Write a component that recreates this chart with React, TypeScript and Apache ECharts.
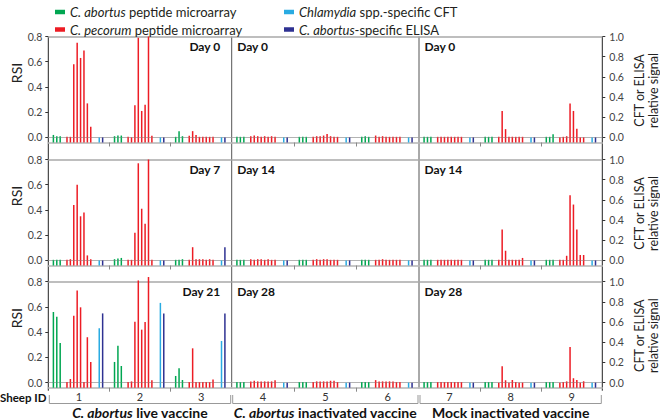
import React, { useEffect, useRef } from "react";
import * as echarts from "echarts";

// ---------- colours & names ----------
const GREEN = "#00a651";
const RED = "#ed1c24";
const CYAN = "#29abe2";
const NAVY = "#2e3192";
const NAMES = [
  "C. abortus peptide microarray",
  "C. pecorum peptide microarray",
  "Chlamydia spp.-specific CFT",
  "C. abortus-specific ELISA",
];
const LEGEND_FMT: Record<string, string> = {
  "C. abortus peptide microarray": "{i|C. abortus} peptide microarray",
  "C. pecorum peptide microarray": "{i|C. pecorum} peptide microarray",
  "Chlamydia spp.-specific CFT": "{i|Chlamydia} spp.-specific CFT",
  "C. abortus-specific ELISA": "{i|C. abortus}-specific ELISA",
};

// ---------- labels ----------
const rsiTicks = [0, 0.2, 0.4, 0.6, 0.8];
const sigTicks = [0, 0.2, 0.4, 0.6, 0.8, 1.0];
const groupLabels = [
  "{i|C. abortus} live vaccine",
  "{i|C. abortus} inactivated vaccine",
  "Mock inactivated vaccine",
];
const sheepLive = [1, 2, 3];
const sheepInact = [4, 5, 6];
const sheepMock = [7, 8, 9];
const daysRow1 = ["Day 0", "Day 0", "Day 0"];
const daysRow2 = ["Day 7", "Day 14", "Day 14"];
const daysRow3 = ["Day 21", "Day 28", "Day 28"];

// ---------- data (per sheep: 3 C. abortus peptides, 8 C. pecorum peptides, CFT, ELISA) ----------
// Row 1
const live0_ab = [[0.02, 0.01, 0.01], [0.01, 0.015, 0.015], [0.005, 0.05, 0.01]];
const live0_pe = [
  [0.005, 0.005, 0.58, 0.75, 0.63, 0.69, 0.27, 0.085],
  [0.005, 0.0, 0.255, 0.79, 0.21, 0.26, 0.8, 0.013],
  [0.013, 0.05, 0.02, 0.005, 0.005, 0.005, 0.005, 0.005],
];
const live0_cft = [0, 0, 0];
const live0_elisa = [0, 0, 0];

const inact0_ab = [[0.005, 0.005, 0.005], [0.005, 0.005, 0.005], [0.005, 0.01, 0.005]];
const inact0_pe = [
  [0.01, 0.015, 0.01, 0.005, 0.01, 0.005, 0.01, 0.005],
  [0.005, 0.01, 0.01, 0.015, 0.028, 0.01, 0.005, 0.005],
  [0.015, 0.005, 0.01, 0.005, 0.005, 0.005, 0.005, 0.005],
];
const inact0_cft = [0, 0, 0];
const inact0_elisa = [0, 0, 0];

const mock0_ab = [[0.005, 0.005, 0.005], [0.005, 0.005, 0.005], [0.005, 0.005, 0.025]];
const mock0_pe = [
  [0.005, 0.005, 0.005, 0.005, 0.005, 0.005, 0.005, 0.005],
  [0.005, 0.21, 0.066, 0.005, 0.005, 0.005, 0.005, 0.005],
  [0.0, 0.005, 0.01, 0.27, 0.21, 0.068, 0.0, 0.0],
];
const mock0_cft = [0, 0, 0];
const mock0_elisa = [0, 0, 0];

// Row 2
const live7_ab = [[0.005, 0.005, 0.005], [0.01, 0.015, 0.02], [0.005, 0.005, 0.01]];
const live7_pe = [
  [0.005, 0.01, 0.44, 0.6, 0.35, 0.38, 0.04, 0.01],
  [0.005, 0.005, 0.22, 0.77, 0.41, 0.29, 0.8, 0.005],
  [0.005, 0.105, 0.01, 0.01, 0.01, 0.005, 0.01, 0.005],
];
const live7_cft = [0, 0, 0];
const live7_elisa = [0, 0, 0.13];

const inact14_ab = [[0.005, 0.005, 0.005], [0.005, 0.005, 0.005], [0.005, 0.005, 0.005]];
const inact14_pe = [
  [0.01, 0.005, 0.01, 0.01, 0.005, 0.01, 0.005, 0.005],
  [0.005, 0.01, 0.005, 0.01, 0.01, 0.005, 0.005, 0.005],
  [0.005, 0.005, 0.01, 0.005, 0.005, 0.005, 0.005, 0.005],
];
const inact14_cft = [0, 0, 0];
const inact14_elisa = [0, 0, 0];

const mock14_ab = [[0.005, 0.005, 0.005], [0.005, 0.005, 0.005], [0.005, 0.005, 0.005]];
const mock14_pe = [
  [0.005, 0.005, 0.005, 0.005, 0.005, 0.005, 0.005, 0.005],
  [0.005, 0.245, 0.077, 0.005, 0.005, 0.005, 0.005, 0.02],
  [0.005, 0.005, 0.037, 0.517, 0.443, 0.245, 0.043, 0.043],
];
const mock14_cft = [0, 0, 0];
const mock14_elisa = [0, 0, 0];

// Row 3
const live21_ab = [[0.56, 0.523, 0.314], [0.164, 0.293, 0.132], [0.053, 0.114, 0.021]];
const live21_pe = [
  [0.005, 0.029, 0.53, 0.73, 0.597, 0.005, 0.36, 0.164],
  [0.005, 0.01, 0.483, 0.81, 0.42, 0.48, 0.837, 0.02],
  [0.005, 0.272, 0.005, 0.005, 0.005, 0.005, 0.005, 0.024],
];
const live21_cft = [0.54, 0.79, 0.413];
const live21_elisa = [0.686, 0.686, 0.686];

const inact28_ab = [[0.005, 0.005, 0.005], [0.005, 0.005, 0.005], [0.005, 0.005, 0.005]];
const inact28_pe = [
  [0.01, 0.015, 0.01, 0.01, 0.01, 0.01, 0.01, 0.02],
  [0.005, 0.01, 0.01, 0.01, 0.01, 0.015, 0.015, 0.005],
  [0.02, 0.01, 0.01, 0.01, 0.01, 0.01, 0.005, 0.005],
];
const inact28_cft = [0, 0, 0];
const inact28_elisa = [0, 0, 0];

const mock28_ab = [[0.005, 0.005, 0.005], [0.005, 0.005, 0.005], [0.005, 0.005, 0.005]];
const mock28_pe = [
  [0.005, 0.005, 0.005, 0.005, 0.005, 0.005, 0.005, 0.005],
  [0.0, 0.129, 0.019, 0.0, 0.021, 0.005, 0.0, 0.0],
  [0.0, 0.005, 0.01, 0.282, 0.035, 0.021, 0.0, 0.011],
];
const mock28_cft = [0, 0, 0];
const mock28_elisa = [0, 0, 0];

// ---------- layout ----------
const FONT = 'Lato, "Noto Sans", sans-serif';
const gridLeft = [48.3, 231.7, 419];
const gridWidth = [183.4, 187.3, 183.3];
const gridTop = [36.5, 159.5, 281.7];
const gridHeight = 106;
const RSI_MIN = -0.04;
const RSI_MAX = 0.8;
const SIG_MIN = -0.05;
const SIG_MAX = 1.0;
const SLOTS = 54;
const SPAN = 18;
const FIRST = 1.5;

const panels = [
  { ab: live0_ab, pe: live0_pe, cft: live0_cft, el: live0_elisa, day: daysRow1[0], sheep: sheepLive },
  { ab: inact0_ab, pe: inact0_pe, cft: inact0_cft, el: inact0_elisa, day: daysRow1[1], sheep: sheepInact },
  { ab: mock0_ab, pe: mock0_pe, cft: mock0_cft, el: mock0_elisa, day: daysRow1[2], sheep: sheepMock },
  { ab: live7_ab, pe: live7_pe, cft: live7_cft, el: live7_elisa, day: daysRow2[0], sheep: sheepLive },
  { ab: inact14_ab, pe: inact14_pe, cft: inact14_cft, el: inact14_elisa, day: daysRow2[1], sheep: sheepInact },
  { ab: mock14_ab, pe: mock14_pe, cft: mock14_cft, el: mock14_elisa, day: daysRow2[2], sheep: sheepMock },
  { ab: live21_ab, pe: live21_pe, cft: live21_cft, el: live21_elisa, day: daysRow3[0], sheep: sheepLive },
  { ab: inact28_ab, pe: inact28_pe, cft: inact28_cft, el: inact28_elisa, day: daysRow3[1], sheep: sheepInact },
  { ab: mock28_ab, pe: mock28_pe, cft: mock28_cft, el: mock28_elisa, day: daysRow3[2], sheep: sheepMock },
];

function buildOption() {
  const grid: any[] = [];
  const xAxis: any[] = [];
  const yAxis: any[] = [];
  const series: any[] = [];
  const graphic: any[] = [];

  panels.forEach((p, g) => {
    const r = Math.floor(g / 3);
    const c = g % 3;
    grid.push({ left: gridLeft[c], top: gridTop[r], width: gridWidth[c], height: gridHeight });
    xAxis.push({
      type: "value",
      gridIndex: g,
      min: 0,
      max: SLOTS,
      interval: SPAN,
      axisLine: { show: true, onZero: false, lineStyle: { color: "#b5b5b5", width: 1.6 } },
      axisTick: { show: true, customValues: [SPAN, 2 * SPAN], length: 4, lineStyle: { color: "#888", width: 1 } },
      axisLabel:
        r === 2
          ? {
              show: true,
              customValues: [SPAN / 2, SPAN * 1.5, SPAN * 2.5],
              formatter: (v: number) => String(p.sheep[Math.round((v - SPAN / 2) / SPAN)]),
              fontFamily: FONT,
              fontSize: 11,
              lineHeight: 11,
              color: "#333",
              margin: 3,
            }
          : { show: false },
      splitLine: { show: false },
    });
    yAxis.push({
      type: "value",
      gridIndex: g,
      min: RSI_MIN,
      max: RSI_MAX,
      position: "left",
      axisLine: { show: false },
      axisTick: c === 0 ? { show: true, customValues: rsiTicks, length: 3, lineStyle: { color: "#333" } } : { show: false },
      axisLabel:
        c === 0
          ? {
              show: true,
              customValues: rsiTicks,
              formatter: (v: number) => v.toFixed(1),
              fontFamily: FONT,
              fontSize: 10.5,
              color: "#444",
              margin: 6,
            }
          : { show: false },
      splitLine: { show: false },
    });
    yAxis.push({
      type: "value",
      gridIndex: g,
      min: SIG_MIN,
      max: SIG_MAX,
      position: "right",
      axisLine: { show: false },
      axisTick: c === 2 ? { show: true, customValues: sigTicks, length: 3, lineStyle: { color: "#333" } } : { show: false },
      axisLabel:
        c === 2
          ? {
              show: true,
              customValues: sigTicks,
              formatter: (v: number) => v.toFixed(1),
              fontFamily: FONT,
              fontSize: 10.5,
              color: "#444",
              margin: 7,
            }
          : { show: false },
      splitLine: { show: false },
    });

    const abD: any[] = [];
    const peD: any[] = [];
    const cftD: any[] = [];
    const elD: any[] = [];
    const stub: any[] = [];
    for (let s = 0; s < 3; s++) {
      const base = FIRST + s * SPAN;
      p.ab[s].forEach((v, k) => {
        abD.push([base + k, v]);
        stub.push({ value: [base + k, RSI_MIN], itemStyle: { color: GREEN } });
      });
      p.pe[s].forEach((v, k) => {
        peD.push([base + 4 + k, v]);
        stub.push({ value: [base + 4 + k, RSI_MIN], itemStyle: { color: RED } });
      });
      cftD.push([base + 13.5, p.cft[s]]);
      stub.push({ value: [base + 13.5, RSI_MIN], itemStyle: { color: CYAN } });
      elD.push([base + 14.5, p.el[s]]);
      stub.push({ value: [base + 14.5, RSI_MIN], itemStyle: { color: NAVY } });
    }
    const common = { type: "bar", xAxisIndex: g, barWidth: 1.5, barGap: "-100%", clip: false, silent: true };
    series.push({ ...common, name: NAMES[0], yAxisIndex: 2 * g, data: abD, itemStyle: { color: GREEN } });
    series.push({ ...common, name: NAMES[1], yAxisIndex: 2 * g, data: peD, itemStyle: { color: RED } });
    series.push({ ...common, name: NAMES[2], yAxisIndex: 2 * g + 1, data: cftD, itemStyle: { color: CYAN } });
    series.push({ ...common, name: NAMES[3], yAxisIndex: 2 * g + 1, data: elD, itemStyle: { color: NAVY } });
    series.push({
      ...common,
      name: "base",
      yAxisIndex: 2 * g,
      data: stub,
      markLine: {
        silent: true,
        symbol: ["none", "none"],
        label: { show: false },
        z: 1,
        data: [
          { yAxis: 0, lineStyle: { color: "#a0a0a0", width: 0.8, type: "solid" } },
          { yAxis: RSI_MAX, lineStyle: { color: "#a8a8a8", width: 1.6, type: "solid" } },
        ],
      },
    });

    // Day label
    const dayX = c === 0 ? gridLeft[c] + gridWidth[c] - 11.5 : gridLeft[c] + 5.5;
    graphic.push({
      type: "text",
      x: dayX,
      y: gridTop[r] + 9.5,
      style: {
        text: p.day,
        align: c === 0 ? "right" : "left",
        verticalAlign: "middle",
        fontFamily: FONT,
        fontWeight: "bold",
        fontSize: 12,
        fill: "#111",
      },
    });
  });

  // Row titles
  for (let r = 0; r < 3; r++) {
    graphic.push({
      type: "text",
      x: 16,
      y: gridTop[r] + 36.5,
      rotation: Math.PI / 2,
      style: { text: "RSI", align: "center", verticalAlign: "middle", fontFamily: FONT, fontSize: 14, fill: "#222" },
    });
    graphic.push({
      type: "text",
      x: 646,
      y: gridTop[r] + 54,
      rotation: Math.PI / 2,
      style: {
        text: "CFT or ELISA\nrelative signal",
        align: "center",
        verticalAlign: "middle",
        lineHeight: 14,
        fontFamily: FONT,
        fontSize: 12.5,
        fill: "#222",
      },
    });
  }

  // vertical axis lines and dividers
  const top = gridTop[0];
  const bottom = gridTop[2] + gridHeight;
  const vx = [gridLeft[0], gridLeft[1], gridLeft[2], gridLeft[2] + gridWidth[2]];
  vx.forEach((x, i) => {
    graphic.push({
      type: "line",
      shape: { x1: x, y1: top, x2: x, y2: bottom + (i === 0 || i === 3 ? 3 : 0) },
      style: { stroke: i === 0 || i === 3 ? "#222" : "#555", lineWidth: 1 },
      silent: true,
    });
  });

  // brackets and group labels
  for (let c = 0; c < 3; c++) {
    const l = gridLeft[c] + 1;
    const rr = gridLeft[c] + gridWidth[c] - 1;
    graphic.push({
      type: "polyline",
      shape: { points: [[l, 395], [l, 403.5], [rr, 403.5], [rr, 395]] },
      style: { stroke: "#999", lineWidth: 1, fill: null },
      silent: true,
    });
    graphic.push({
      type: "text",
      x: gridLeft[c] + gridWidth[c] / 2,
      y: 412,
      style: {
        text: groupLabels[c],
        align: "center",
        verticalAlign: "middle",
        fontFamily: FONT,
        fontWeight: "bold",
        fontSize: 14,
        lineHeight: 13,
        fill: "#111",
        rich: { i: { fontStyle: "italic", fontWeight: "bold", fontFamily: FONT, fontSize: 14, lineHeight: 13, fill: "#111" } },
      },
    });
  }
  graphic.push({
    type: "text",
    x: 0,
    y: 397,
    style: { text: "Sheep ID", align: "left", verticalAlign: "middle", fontFamily: FONT, fontWeight: "bold", fontSize: 11.5, lineHeight: 11, fill: "#111" },
  });

  const legendBase = {
    orient: "vertical",
    top: 0,
    itemWidth: 10,
    itemHeight: 4.5,
    itemGap: 3.5,
    icon: "rect",
    selectedMode: false,
    formatter: (n: string) => LEGEND_FMT[n] || n,
    textStyle: {
      fontFamily: FONT,
      fontSize: 13,
      color: "#231f20",
      lineHeight: 14,
      rich: { i: { fontStyle: "italic", fontFamily: FONT, fontSize: 13, color: "#231f20", lineHeight: 14 } },
    },
  };

  return {
    animation: false,
    backgroundColor: "#ffffff",
    legend: [
      { ...legendBase, left: 50, data: [NAMES[0], NAMES[1]] },
      { ...legendBase, left: 279, data: [NAMES[2], NAMES[3]] },
    ],
    grid,
    xAxis,
    yAxis,
    series,
    graphic,
  };
}

export default function App() {
  const ref = useRef<HTMLDivElement>(null);
  useEffect(() => {
    if (!ref.current) return;
    const chart = echarts.init(ref.current, undefined, { renderer: "svg" });
    chart.setOption(buildOption() as any);
    return () => chart.dispose();
  }, []);
  return (
    <div
      ref={ref}
      style={{ position: "absolute", left: 0, top: 0, width: 660, height: 419, background: "#fff" }}
    />
  );
}
